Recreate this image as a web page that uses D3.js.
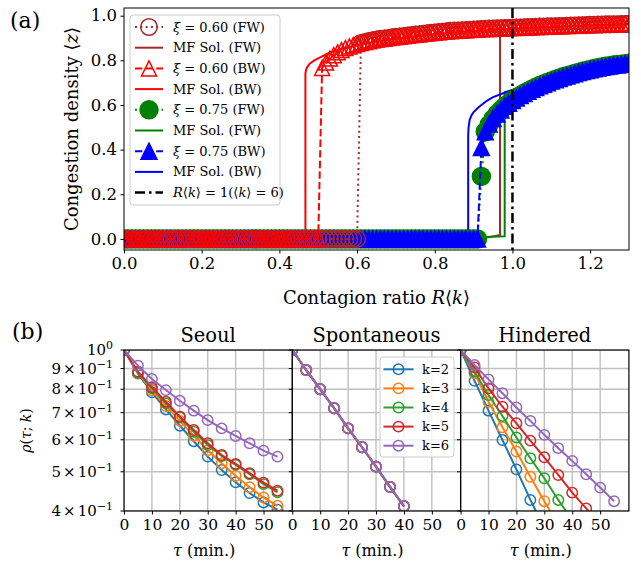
<!DOCTYPE html>
<html><head><meta charset="utf-8">
<script src="https://cdn.jsdelivr.net/npm/d3@7"></script>
<style>body{margin:0;background:#fff} text{font-family:'DejaVu Serif',serif;fill:#000}</style>
</head><body><svg id="c" width="641" height="564" xmlns="http://www.w3.org/2000/svg"></svg>
<script>
// ---------------- Panel (a) data ----------------
const R = [
0.00,0.01,0.02,0.03,0.04,0.05,0.06,0.07,0.08,0.09,
0.10,0.11,0.12,0.13,0.14,0.15,0.16,0.17,0.18,0.19,
0.20,0.21,0.22,0.23,0.24,0.25,0.26,0.27,0.28,0.29,
0.30,0.31,0.32,0.33,0.34,0.35,0.36,0.37,0.38,0.39,
0.40,0.41,0.42,0.43,0.44,0.45,0.46,0.47,0.48,0.49,
0.50,0.51,0.52,0.53,0.54,0.55,0.56,0.57,0.58,0.59,
0.60,0.61,0.62,0.63,0.64,0.65,0.66,0.67,0.68,0.69,
0.70,0.71,0.72,0.73,0.74,0.75,0.76,0.77,0.78,0.79,
0.80,0.81,0.82,0.83,0.84,0.85,0.86,0.87,0.88,0.89,
0.90,0.91,0.92,0.93,0.94,0.95,0.96,0.97,0.98,0.99,
1.00,1.01,1.02,1.03,1.04,1.05,1.06,1.07,1.08,1.09,
1.10,1.11,1.12,1.13,1.14,1.15,1.16,1.17,1.18,1.19,
1.20,1.21,1.22,1.23,1.24,1.25,1.26,1.27,1.28,1.29,
1.30];

// xi = 0.60, forward (jump between 0.60 and 0.61)
const fw060 = [
0,0,0,0,0,0,0,0,0,0, 0,0,0,0,0,0,0,0,0,0, 0,0,0,0,0,0,0,0,0,0,
0,0,0,0,0,0,0,0,0,0, 0,0,0,0,0,0,0,0,0,0, 0,0,0,0,0,0,0,0,0,0, 0,
.878,.882,.886,.890,.893,.896,.898,.900,.903,.905,
.907,.909,.911,.913,.915,.917,.919,.921,.923,.925,
.927,.928,.930,.932,.933,.934,.935,.936,.937,.938,
.939,.940,.941,.942,.942,.943,.944,.945,.945,.946,
.947,.947,.948,.949,.949,.950,.951,.951,.952,.953,
.953,.954,.954,.955,.956,.956,.957,.957,.958,.959,
.959,.960,.960,.961,.961,.962,.962,.963,.963,.964];

// xi = 0.60, backward (jump between 0.50 and 0.51)
const bw060 = [
0,0,0,0,0,0,0,0,0,0, 0,0,0,0,0,0,0,0,0,0, 0,0,0,0,0,0,0,0,0,0,
0,0,0,0,0,0,0,0,0,0, 0,0,0,0,0,0,0,0,0,0, 0,
.766,.790,.808,.823,.836,.846,.855,.862,.868,.873,
.878,.882,.886,.890,.893,.896,.898,.900,.903,.905,
.907,.909,.911,.913,.915,.917,.919,.921,.923,.925,
.927,.928,.930,.932,.933,.934,.935,.936,.937,.938,
.939,.940,.941,.942,.942,.943,.944,.945,.945,.946,
.947,.947,.948,.949,.949,.950,.951,.951,.952,.953,
.953,.954,.954,.955,.956,.956,.957,.957,.958,.959,
.959,.960,.960,.961,.961,.962,.962,.963,.963,.964];

// xi = 0.75, forward
const fw075 = [
0,0,0,0,0,0,0,0,0,0, 0,0,0,0,0,0,0,0,0,0, 0,0,0,0,0,0,0,0,0,0,
0,0,0,0,0,0,0,0,0,0, 0,0,0,0,0,0,0,0,0,0, 0,0,0,0,0,0,0,0,0,0,
0,0,0,0,0,0,0,0,0,0, 0,0,0,0,0,0,0,0,0,0, 0,0,0,0,0,0,0,0,0,0, 0,0,
.280,.480,.512,.538,.559,.577,.593,.607,
.620,.632,.643,.653,.662,.671,.679,.687,.694,.701,
.708,.714,.720,.726,.731,.736,.741,.746,.751,.755,
.759,.763,.767,.770,.773,.776,.779,.781,.783,.785,
.787];

// xi = 0.75, backward
const bw075 = [
0,0,0,0,0,0,0,0,0,0, 0,0,0,0,0,0,0,0,0,0, 0,0,0,0,0,0,0,0,0,0,
0,0,0,0,0,0,0,0,0,0, 0,0,0,0,0,0,0,0,0,0, 0,0,0,0,0,0,0,0,0,0,
0,0,0,0,0,0,0,0,0,0, 0,0,0,0,0,0,0,0,0,0, 0,0,0,0,0,0,0,0,0,0, 0,0,
.410,.480,.515,.540,.560,.578,.594,.608,
.620,.631,.642,.652,.661,.670,.678,.686,.693,.700,
.707,.713,.719,.725,.730,.735,.740,.745,.750,.754,
.758,.762,.766,.769,.772,.775,.778,.780,.782,.784,
.786];

// mean-field solutions: [R, z]
const mfFW060 = [[0,0],[0.90,0],[0.94,0.008],[0.968,0.018],[0.968,0.938],[1.0,0.941],[1.1,0.949],[1.2,0.956],[1.3,0.962]];
const mfBW060 = [[0,0],[0.467,0],[0.467,0.743],[0.470,0.765],[0.478,0.785],[0.49,0.80],[0.51,0.818],[0.53,0.835],[0.56,0.852],[0.60,0.868],[0.65,0.885],[0.70,0.898],[0.80,0.918],[0.90,0.931],[0.968,0.938],[1.0,0.941],[1.1,0.949],[1.2,0.956],[1.3,0.962]];
const mfFW075 = [[0,0],[0.90,0],[0.93,0.008],[0.980,0.012],[0.980,0.658],[1.0,0.667],[1.05,0.69],[1.1,0.711],[1.15,0.731],[1.2,0.75],[1.25,0.769],[1.3,0.786]];
const mfBW075 = [[0,0],[0.886,0],[0.886,0.46],[0.887,0.50],[0.89,0.535],[0.895,0.555],[0.90,0.568],[0.91,0.585],[0.92,0.60],[0.935,0.62],[0.95,0.635],[0.98,0.655],[1.0,0.667],[1.05,0.69],[1.1,0.711],[1.15,0.731],[1.2,0.75],[1.25,0.769],[1.3,0.786]];

const xTicksA = [0.0,0.2,0.4,0.6,0.8,1.0,1.2];
const yTicksA = [0.0,0.2,0.4,0.6,0.8,1.0];

// ---------------- Panel (b) data ----------------
const tau = [0,5,10,15,20,25,30,35,40,45,50,55];
const kLabels = ['k=2','k=3','k=4','k=5','k=6'];
const kColors = ['#1f77b4','#ff7f0e','#2ca02c','#d62728','#9467bd'];
const seoul_k2 = [1,0.874,0.786,0.713,0.650,0.595,0.545,0.505,0.471,0.443,0.420,0.403];
const seoul_k3 = [1,0.878,0.795,0.727,0.668,0.614,0.565,0.525,0.489,0.458,0.432,0.412];
const seoul_k4 = [1,0.879,0.804,0.738,0.682,0.628,0.582,0.547,0.520,0.493,0.466,0.445];
const seoul_k5 = [1,0.884,0.809,0.745,0.684,0.634,0.588,0.550,0.523,0.496,0.470,0.449];
const seoul_k6 = [1,0.915,0.848,0.796,0.749,0.708,0.671,0.640,0.613,0.588,0.564,0.545];
const spont_all = [1,0.892,0.800,0.718,0.640,0.575,0.515,0.459,0.411];
const hind_k2 = [1,0.839,0.708,0.599,0.507,0.426,0.364];
const hind_k3 = [1,0.876,0.745,0.644,0.561,0.486,0.423,0.370];
const hind_k4 = [1,0.884,0.774,0.687,0.608,0.540,0.482,0.426,0.380];
const hind_k5 = [1,0.906,0.804,0.724,0.659,0.597,0.543,0.491,0.444,0.406,0.370];
const hind_k6 = [1,0.918,0.846,0.782,0.721,0.668,0.617,0.572,0.532,0.493,0.457,0.423];
const xTicksB = [0,10,20,30,40,50];
const yTicksB = [1,0.9,0.8,0.7,0.6,0.5,0.4];
const yTickLabB = [['10','0'],['9×10','−1'],['8×10','−1'],['7×10','−1'],['6×10','−1'],['5×10','−1'],['4×10','−1']];
const titlesB = ['Seoul','Spontaneous','Hindered'];

// ---------------- drawing ----------------
const svg = d3.select('#c');
const SERIF = "'DejaVu Serif', serif";

function triPath(ms){ const h = ms/2; return `M0,${-h}L${-h},${h}L${h},${h}Z`; }

// ======= Panel (a) =======
const A = {l:124, r:629, t:8, b:250};
const xa = d3.scaleLinear().domain([0,1.3]).range([A.l, A.r]);
const ya = d3.scaleLinear().domain([-0.0497,1.0345]).range([A.b, A.t]);
const defs = svg.append('defs');
defs.append('clipPath').attr('id','clipA').append('rect')
  .attr('x',A.l).attr('y',A.t).attr('width',A.r-A.l).attr('height',A.b-A.t);

const gA = svg.append('g').attr('clip-path','url(#clipA)');
const lineA = d3.line().x(d=>xa(d[0])).y(d=>ya(d[1]));

// MF lines
[[mfFW060,'#a52a2a'],[mfBW060,'#ff0000'],[mfFW075,'#008000'],[mfBW075,'#0000ff']].forEach(([d,c])=>{
  gA.append('path').attr('d',lineA(d)).attr('fill','none').attr('stroke',c).attr('stroke-width',2);
});

const sims = [
  {z:fw075, color:'#008000', dash:'2,3.3', marker:'circle', fill:true, size:9},
  {z:bw075, color:'#0000ff', dash:'7.4,3.2', marker:'tri', fill:true, size:16},
  {z:fw060, color:'#a52a2a', dash:'2,3.3', marker:'circle', fill:false, size:8.3},
  {z:bw060, color:'#ff0000', dash:'7.4,3.2', marker:'tri', fill:false, size:15}
];
sims.forEach(s=>{
  const pts = R.map((r,i)=>[r, s.z[i]]);
  gA.append('path').attr('d',lineA(pts)).attr('fill','none').attr('stroke',s.color)
    .attr('stroke-width',2).attr('stroke-dasharray',s.dash);
  const g = gA.append('g');
  pts.forEach(p=>{
    if (s.marker==='circle') {
      g.append('circle').attr('cx',xa(p[0])).attr('cy',ya(p[1])).attr('r',s.size)
        .attr('fill',s.fill?s.color:'none').attr('stroke',s.color).attr('stroke-width',1.5);
    } else {
      g.append('path').attr('d',triPath(s.size)).attr('transform',`translate(${xa(p[0])},${ya(p[1])})`)
        .attr('fill',s.fill?s.color:'none').attr('stroke',s.color).attr('stroke-width',1.5);
    }
  });
});
// R<k>=1 line
gA.append('line').attr('x1',xa(1)).attr('x2',xa(1)).attr('y1',A.t).attr('y2',A.b)
  .attr('stroke','#000').attr('stroke-width',2.5).attr('stroke-dasharray','10,4,2.5,4');

// frame
svg.append('rect').attr('x',A.l).attr('y',A.t).attr('width',A.r-A.l).attr('height',A.b-A.t)
  .attr('fill','none').attr('stroke','#000').attr('stroke-width',1);

// axes (a)
const axA_x = svg.append('g').attr('transform',`translate(0,${A.b})`)
  .call(d3.axisBottom(xa).tickValues(xTicksA).tickFormat(d3.format('.1f')).tickSize(3.5).tickSizeOuter(0).tickPadding(4));
const axA_y = svg.append('g').attr('transform',`translate(${A.l},0)`)
  .call(d3.axisLeft(ya).tickValues(yTicksA).tickFormat(d3.format('.1f')).tickSize(3.5).tickSizeOuter(0).tickPadding(3.5));
[axA_x, axA_y].forEach(g=>{
  g.select('.domain').remove();
  g.selectAll('text').attr('font-family',SERIF).attr('font-size',16.5).attr('fill','#000');
  g.selectAll('line').attr('stroke','#000');
});

// labels (a)
svg.append('text').attr('x',10).attr('y',28).attr('font-size',22).text('(a)');
{
  const t = svg.append('text').attr('x',(A.l+A.r)/2).attr('y',304).attr('text-anchor','middle').attr('font-size',18);
  t.append('tspan').text('Contagion ratio ');
  t.append('tspan').attr('font-style','italic').text('R');
  t.append('tspan').text('⟨');
  t.append('tspan').attr('font-style','italic').text('k');
  t.append('tspan').text('⟩');
}
{
  const t = svg.append('text').attr('transform',`translate(78,${(A.t+A.b)/2}) rotate(-90)`)
    .attr('text-anchor','middle').attr('font-size',18);
  t.append('tspan').text('Congestion density ');
  t.append('tspan').text('⟨');
  t.append('tspan').attr('font-style','italic').text('z');
  t.append('tspan').text('⟩');
}

// legend (a)
{
  const L = svg.append('g');
  L.append('rect').attr('x',130).attr('y',15).attr('width',150).attr('height',190).attr('rx',3)
    .attr('fill','#fff').attr('fill-opacity',0.8).attr('stroke','#cccccc').attr('stroke-width',1);
  const entries = [
    {c:'#a52a2a', dash:'2,3.3', m:'circle', fill:false, size:8.3, label:['ξ',' = 0.60 (FW)']},
    {c:'#a52a2a', dash:null, m:null, label:[null,'MF Sol. (FW)']},
    {c:'#ff0000', dash:'7.4,3.2', m:'tri', fill:false, size:15, label:['ξ',' = 0.60 (BW)']},
    {c:'#ff0000', dash:null, m:null, label:[null,'MF Sol. (BW)']},
    {c:'#008000', dash:'2,3.3', m:'circle', fill:true, size:9, label:['ξ',' = 0.75 (FW)']},
    {c:'#008000', dash:null, m:null, label:[null,'MF Sol. (FW)']},
    {c:'#0000ff', dash:'7.4,3.2', m:'tri', fill:true, size:16, label:['ξ',' = 0.75 (BW)']},
    {c:'#0000ff', dash:null, m:null, label:[null,'MF Sol. (BW)']},
    {c:'#000000', dash:'10,4,2.5,4', m:null, label:['last','']}
  ];
  entries.forEach((e,i)=>{
    const y = 27 + i*20.7;
    L.append('line').attr('x1',135).attr('x2',163).attr('y1',y).attr('y2',y)
      .attr('stroke',e.c).attr('stroke-width',e.c==='#000000'?2.5:2).attr('stroke-dasharray',e.dash);
    if (e.m==='circle') L.append('circle').attr('cx',149).attr('cy',y).attr('r',e.size)
      .attr('fill',e.fill?e.c:'none').attr('stroke',e.c).attr('stroke-width',1.5);
    if (e.m==='tri') L.append('path').attr('d',triPath(e.size)).attr('transform',`translate(149,${y})`)
      .attr('fill',e.fill?e.c:'none').attr('stroke',e.c).attr('stroke-width',1.5);
    const t = L.append('text').attr('x',173).attr('y',y+4.5).attr('font-size',13);
    if (e.label[0]==='last') {
      t.append('tspan').attr('font-style','italic').text('R');
      t.append('tspan').text('⟨');
      t.append('tspan').attr('font-style','italic').text('k');
      t.append('tspan').text('⟩ = 1(⟨');
      t.append('tspan').attr('font-style','italic').text('k');
      t.append('tspan').text('⟩ = 6)');
    } else {
      if (e.label[0]) t.append('tspan').attr('font-style','italic').text(e.label[0]);
      t.append('tspan').text(e.label[1]);
    }
  });
}

// ======= Panel (b) =======
const B = {t:350, b:511, w:168.3, lefts:[124, 292.3, 460.6]};
const yb = d3.scaleLog().domain([0.4,1]).range([B.b, B.t]);
const seoulSeries = [seoul_k2, seoul_k3, seoul_k4, seoul_k5, seoul_k6];
const spontSeries = [spont_all, spont_all, spont_all, spont_all, spont_all];
const hindSeries = [hind_k2, hind_k3, hind_k4, hind_k5, hind_k6];
const panelsB = [seoulSeries, spontSeries, hindSeries];

panelsB.forEach((series, pi)=>{
  const L0 = B.lefts[pi];
  const xb = d3.scaleLinear().domain([0,60.3]).range([L0, L0+B.w]);
  const cid = 'clipB'+pi;
  defs.append('clipPath').attr('id',cid).append('rect')
    .attr('x',L0).attr('y',B.t).attr('width',B.w).attr('height',B.b-B.t);
  const g = svg.append('g');
  // grid
  const gg = g.append('g').attr('clip-path',`url(#${cid})`);
  xTicksB.forEach(v=>gg.append('line').attr('x1',xb(v)).attr('x2',xb(v)).attr('y1',B.t).attr('y2',B.b)
    .attr('stroke','#c0c0c0').attr('stroke-width',1.4));
  yTicksB.forEach(v=>gg.append('line').attr('x1',L0).attr('x2',L0+B.w).attr('y1',yb(v)).attr('y2',yb(v))
    .attr('stroke','#c0c0c0').attr('stroke-width',1.4));
  // series
  const gd = g.append('g').attr('clip-path',`url(#${cid})`);
  const ln = d3.line().x(d=>xb(d[0])).y(d=>yb(d[1]));
  series.forEach((vals, k)=>{
    const pts = vals.map((v,i)=>[tau[i], v]);
    gd.append('path').attr('d',ln(pts)).attr('fill','none').attr('stroke',kColors[k]).attr('stroke-width',2);
    pts.forEach(p=>gd.append('circle').attr('cx',xb(p[0])).attr('cy',yb(p[1])).attr('r',5.2)
      .attr('fill','none').attr('stroke',kColors[k]).attr('stroke-width',1.5));
  });
  // frame
  g.append('rect').attr('x',L0).attr('y',B.t).attr('width',B.w).attr('height',B.b-B.t)
    .attr('fill','none').attr('stroke','#000').attr('stroke-width',1.2);
  // x axis
  const ax = g.append('g').attr('transform',`translate(0,${B.b})`)
    .call(d3.axisBottom(xb).tickValues(xTicksB).tickFormat(d3.format('d')).tickSize(3.5).tickSizeOuter(0).tickPadding(4));
  ax.select('.domain').remove();
  ax.selectAll('text').attr('font-family',SERIF).attr('font-size',15.5).attr('fill','#000');
  ax.selectAll('line').attr('stroke','#000');
  // y ticks
  yTicksB.forEach((v,i)=>{
    g.append('line').attr('x1',L0-3.5).attr('x2',L0).attr('y1',yb(v)).attr('y2',yb(v)).attr('stroke','#000');
    if (pi===0) {
      const t = g.append('text').attr('x',L0-11).attr('y',yb(v)+5).attr('text-anchor','end').attr('font-size',15);
      const [m, e] = yTickLabB[i];
      if (m.indexOf('×')>=0) {
        const parts = m.split('×');
        t.append('tspan').text(parts[0]);
        t.append('tspan').attr('dx',2).text('×');
        t.append('tspan').attr('dx',2).text(parts[1]);
      } else t.append('tspan').text(m);
      t.append('tspan').attr('dy',-6).attr('font-size',11).text(e);
    }
  });
  // title
  svg.append('text').attr('x',L0+B.w/2).attr('y',341.5).attr('text-anchor','middle').attr('font-size',19.5).text(titlesB[pi]);
  // x label
  const xl = svg.append('text').attr('x',L0+B.w/2-4).attr('y',556).attr('text-anchor','middle').attr('font-size',16);
  xl.append('tspan').attr('font-style','italic').text('τ');
  xl.append('tspan').text(' (min.)');
});

// label (b), y label
svg.append('text').attr('x',12).attr('y',339).attr('font-size',22).text('(b)');
{
  const t = svg.append('text').attr('transform',`translate(31,${(B.t+B.b)/2}) rotate(-90)`)
    .attr('text-anchor','middle').attr('font-size',14);
  t.append('tspan').attr('font-style','italic').text('ρ');
  t.append('tspan').text('(');
  t.append('tspan').attr('font-style','italic').text('τ');
  t.append('tspan').text('; ');
  t.append('tspan').attr('font-style','italic').text('k');
  t.append('tspan').text(')');
}

// legend (b)
{
  const Lg = svg.append('g');
  Lg.append('rect').attr('x',380).attr('y',357).attr('width',74).attr('height',100).attr('rx',3)
    .attr('fill','#fff').attr('fill-opacity',0.8).attr('stroke','#cccccc').attr('stroke-width',1);
  kLabels.forEach((lab,i)=>{
    const y = 369.3 + i*19.1;
    Lg.append('line').attr('x1',383.5).attr('x2',413.5).attr('y1',y).attr('y2',y).attr('stroke',kColors[i]).attr('stroke-width',2);
    Lg.append('circle').attr('cx',398.5).attr('cy',y).attr('r',5.2).attr('fill','none').attr('stroke',kColors[i]).attr('stroke-width',1.5);
    Lg.append('text').attr('x',422).attr('y',y+4.5).attr('font-size',13).text(lab);
  });
}
</script>
</body></html>
